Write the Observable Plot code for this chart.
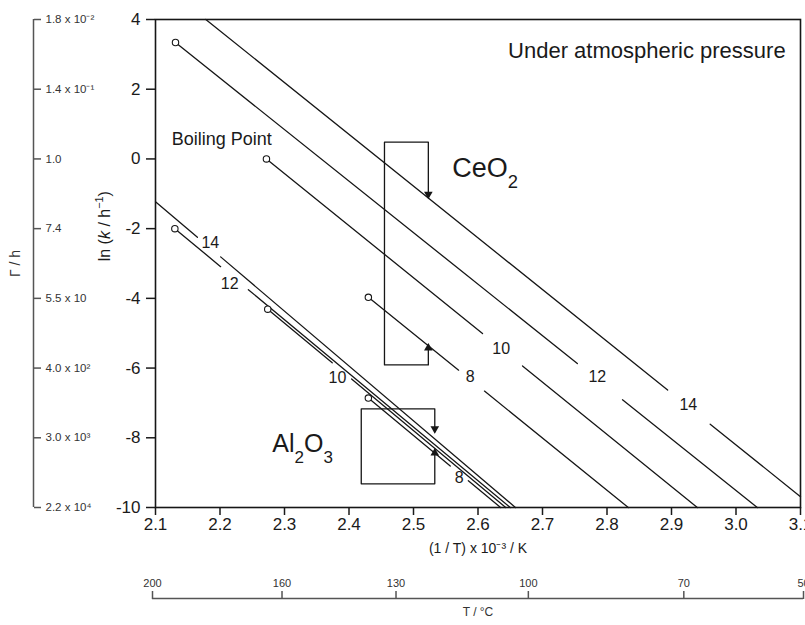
<!DOCTYPE html>
<html>
<head>
<meta charset="utf-8">
<script src="https://cdn.jsdelivr.net/npm/d3@7"></script>
<script src="https://cdn.jsdelivr.net/npm/@observablehq/plot@0.6"></script>
<style>
  body { margin: 0; background: #fff; }
  #chart { position: relative; width: 805px; height: 625px; overflow: hidden; background: #fff; }
  #chart svg { position: absolute; left: 0; top: 0; }
</style>
</head>
<body>
<div id="chart"></div>
<script>
const FONT = "'Liberation Sans', Arial, Helvetica, sans-serif";

// ---- axis ticks / labels ----
const xTicks = [2.1, 2.2, 2.3, 2.4, 2.5, 2.6, 2.7, 2.8, 2.9, 3.0, 3.1];
const yTicks = [-10, -8, -6, -4, -2, 0, 2, 4];
const tauLabels = ["2.2 x 10⁴", "3.0 x 10³", "4.0 x 10²", "5.5 x 10", "7.4", "1.0", "1.4 x 10⁻¹", "1.8 x 10⁻²"];
const tempTicks = [200, 160, 130, 100, 70, 50];

// ---- series: pH levels (x = 1000/T, y = ln k) ----
const phLevels = [14, 12, 10, 8];

const ceo2Start   = [[2.178, 4.0], [2.131, 3.34], [2.272, 0.0], [2.430, -3.97]];
const ceo2GapFrom = [[2.894, -6.63], [2.754, -5.87], [2.607, -5.01], [2.570, -6.06]];
const ceo2GapTo   = [[2.960, -7.61], [2.824, -6.91], [2.669, -5.94], [2.610, -6.66]];
const ceo2End     = [[3.1, -9.69], [3.033, -10], [2.940, -10], [2.833, -10]];
const ceo2Boiling = [false, true, true, true];
const ceo2LabelAt = [[2.926, -7.07], [2.785, -6.26], [2.636, -5.46], [2.588, -6.26]];

const al2o3Start   = [[2.1, -1.23], [2.130, -2.0], [2.274, -4.31], [2.430, -6.86]];
const al2o3GapFrom = [[2.165, -2.25], [2.201, -3.09], [2.374, -5.85], [2.557, -8.81]];
const al2o3GapTo   = [[2.201, -2.81], [2.244, -3.75], [2.404, -6.31], [2.585, -9.23]];
const al2o3End     = [[2.658, -10], [2.650, -10], [2.643, -10], [2.635, -10]];
const al2o3Boiling = [false, true, true, true];
const al2o3LabelAt = [[2.185, -2.42], [2.215, -3.59], [2.382, -6.29], [2.571, -9.15]];

// brackets (difference between pH 14 and pH 8)
const ceo2Bracket  = [[2.523, -1.10], [2.523, 0.48], [2.455, 0.48], [2.455, -5.91], [2.523, -5.91], [2.523, -5.34]];
const al2o3Bracket = [[2.533, -7.83], [2.533, -7.17], [2.419, -7.17], [2.419, -9.32], [2.533, -9.32], [2.533, -8.35]];

// annotations
const notes = [
  {x: 3.077, y: 3.11, text: "Under atmospheric pressure", size: 22, anchor: "end"},
  {x: 2.125, y: 0.56, text: "Boiling Point", size: 18, anchor: "start"}
];
const formulas = [
  {x: 2.560, y: -0.27, text: "CeO2", size: 27},
  {x: 2.281, y: -8.18, text: "Al2O3", size: 25}
];

const richText = {
  "CeO2": {size: 27, parts: [["CeO"], ["2", "sub"]]},
  "Al2O3": {size: 25, parts: [["Al"], ["2", "sub"], ["O"], ["3", "sub"]]},
  "ln (k / h-1)": {size: 16, parts: [["ln ("], ["k", "it"], [" / h"], ["-1", "sup"], [")"]]}
};

// ---- build tables ----
function segments(material, starts, gFrom, gTo, ends) {
  const rows = [];
  phLevels.forEach((ph, i) => {
    rows.push({seg: `${material}-${ph}-a`, x: starts[i][0], y: starts[i][1]});
    rows.push({seg: `${material}-${ph}-a`, x: gFrom[i][0], y: gFrom[i][1]});
    rows.push({seg: `${material}-${ph}-b`, x: gTo[i][0], y: gTo[i][1]});
    rows.push({seg: `${material}-${ph}-b`, x: ends[i][0], y: ends[i][1]});
  });
  return rows;
}
const lineRows = [
  ...segments("CeO2", ceo2Start, ceo2GapFrom, ceo2GapTo, ceo2End),
  ...segments("Al2O3", al2o3Start, al2o3GapFrom, al2o3GapTo, al2o3End)
];
const boilRows = [
  ...phLevels.map((ph, i) => ({x: ceo2Start[i][0], y: ceo2Start[i][1], on: ceo2Boiling[i]})),
  ...phLevels.map((ph, i) => ({x: al2o3Start[i][0], y: al2o3Start[i][1], on: al2o3Boiling[i]}))
].filter(d => d.on);
const labelRows = [
  ...phLevels.map((ph, i) => ({x: ceo2LabelAt[i][0], y: ceo2LabelAt[i][1], ph})),
  ...phLevels.map((ph, i) => ({x: al2o3LabelAt[i][0], y: al2o3LabelAt[i][1], ph}))
];
const bracketRows = [
  ...ceo2Bracket.map(([x, y]) => ({b: "CeO2", x, y})),
  ...al2o3Bracket.map(([x, y]) => ({b: "Al2O3", x, y}))
];
const downTips = [ceo2Bracket[0], al2o3Bracket[0]].map(([x, y]) => ({x, y}));
const upTips = [ceo2Bracket[ceo2Bracket.length - 1], al2o3Bracket[al2o3Bracket.length - 1]].map(([x, y]) => ({x, y}));

const tauByTick = new Map(yTicks.map((t, i) => [t, tauLabels[i]]));
const invT = c => 1000 / (c + 273.15);

const baseStyle = {fontFamily: FONT, background: "transparent", color: "#1a1a1a"};

// ---- main chart ----
const main = Plot.plot({
  width: 805, height: 625,
  marginLeft: 155, marginRight: 5, marginTop: 19, marginBottom: 118,
  style: baseStyle,
  x: {domain: [2.1, 3.1]},
  y: {domain: [-10, 4]},
  marks: [
    Plot.axisX(xTicks, {tickSize: 8, tickPadding: 2, fontSize: 17, strokeWidth: 1.5, tickFormat: d3.format(".1f"), label: null}),
    Plot.axisY(yTicks, {tickSize: 9, tickPadding: 6, fontSize: 17, strokeWidth: 1.5, tickFormat: d => String(d), label: null}),
    Plot.line(lineRows, {x: "x", y: "y", z: "seg", stroke: "#161616", strokeWidth: 1.3}),
    Plot.line(bracketRows, {x: "x", y: "y", z: "b", stroke: "#161616", strokeWidth: 1.3}),
    Plot.dot(downTips, {x: "x", y: "y", symbol: "triangle", r: 3.2, fill: "#161616", stroke: "none", rotate: 180, dy: -3}),
    Plot.dot(upTips, {x: "x", y: "y", symbol: "triangle", r: 3.2, fill: "#161616", stroke: "none", dy: 3}),
    Plot.dot(boilRows, {x: "x", y: "y", r: 3.2, fill: "white", stroke: "#161616", strokeWidth: 1.1}),
    Plot.text(labelRows, {x: "x", y: "y", text: d => String(d.ph), fontSize: 16, fill: "#1a1a1a"}),
    Plot.text(notes.filter(d => d.anchor === "end"), {x: "x", y: "y", text: "text", fontSize: d => d.size, textAnchor: "end", fill: "#1a1a1a"}),
    Plot.text(notes.filter(d => d.anchor === "start"), {x: "x", y: "y", text: "text", fontSize: d => d.size, textAnchor: "start", fill: "#1a1a1a"}),
    Plot.frame({stroke: "#161616", strokeWidth: 1.6}),
    Plot.text(formulas, {x: "x", y: "y", text: "text", fontSize: d => d.size, textAnchor: "start", fill: "#1a1a1a"}),
    Plot.text(["ln (k / h-1)"], {text: d => d, y: [-1.93], frameAnchor: "left", textAnchor: "middle", dx: -51, rotate: -90, fontSize: 16, fill: "#1a1a1a"}),
    Plot.text(["(1 / T) x 10⁻³ / K"], {text: d => d, frameAnchor: "bottom", dy: 45, fontSize: 14, fill: "#1a1a1a"})
  ]
});

// ---- left secondary axis (Γ / h) ----
const tauAxis = Plot.plot({
  width: 805, height: 625,
  marginLeft: 0, marginRight: 772, marginTop: 19, marginBottom: 118,
  style: baseStyle,
  x: {domain: [0, 1], axis: null},
  y: {domain: [-10, 4]},
  marks: [
    Plot.ruleX([1], {stroke: "#555", strokeWidth: 1.5}),
    Plot.axisY(yTicks, {anchor: "right", tickSize: 7, tickPadding: 5, fontSize: 11.5, stroke: "#555", strokeWidth: 1.5, fill: "#333", tickFormat: d => tauByTick.get(d), label: null}),
    Plot.text(["Γ / h"], {text: d => d, frameAnchor: "left", textAnchor: "middle", dx: 15, rotate: -90, fontSize: 14, fill: "#333"})
  ]
});

// ---- bottom secondary axis (T / °C) ----
const tempAxis = Plot.plot({
  width: 805, height: 625,
  marginLeft: 152, marginRight: 2, marginTop: 598, marginBottom: 26,
  style: baseStyle,
  x: {domain: [invT(200), invT(50)]},
  y: {domain: [0, 1], axis: null},
  marks: [
    Plot.ruleY([1], {stroke: "#555", strokeWidth: 1.5}),
    Plot.axisX(tempTicks.map(invT), {anchor: "top", tickSize: 8, tickPadding: 4, fontSize: 11, stroke: "#555", strokeWidth: 1.5, fill: "#333", tickFormat: d => String(Math.round(1000 / d - 273.15)), label: null}),
    Plot.text(["T / °C"], {text: d => d, frameAnchor: "bottom", dy: 16, fontSize: 12, fill: "#333"})
  ]
});

function richify(svg) {
  d3.select(svg).selectAll("text").each(function () {
    if (this.querySelector("tspan")) return;
    const spec = richText[this.textContent];
    if (!spec) return;
    const el = d3.select(this).text(null);
    let offset = 0;
    for (const [t, kind] of spec.parts) {
      const target = kind === "sub" ? 0.42 * spec.size : kind === "sup" ? -0.42 * spec.size : 0;
      const ts = el.append("tspan").attr("dy", target - offset).text(kind === "sup" ? t.replace("-", "−") : t);
      offset = target;
      if (kind === "sub" || kind === "sup") ts.attr("font-size", 0.68 * spec.size);
      if (kind === "it") ts.attr("font-style", "italic");
    }
  });
}
richify(main);

const chart = document.getElementById("chart");
chart.appendChild(main);
chart.appendChild(tauAxis);
chart.appendChild(tempAxis);
</script>
</body>
</html>
